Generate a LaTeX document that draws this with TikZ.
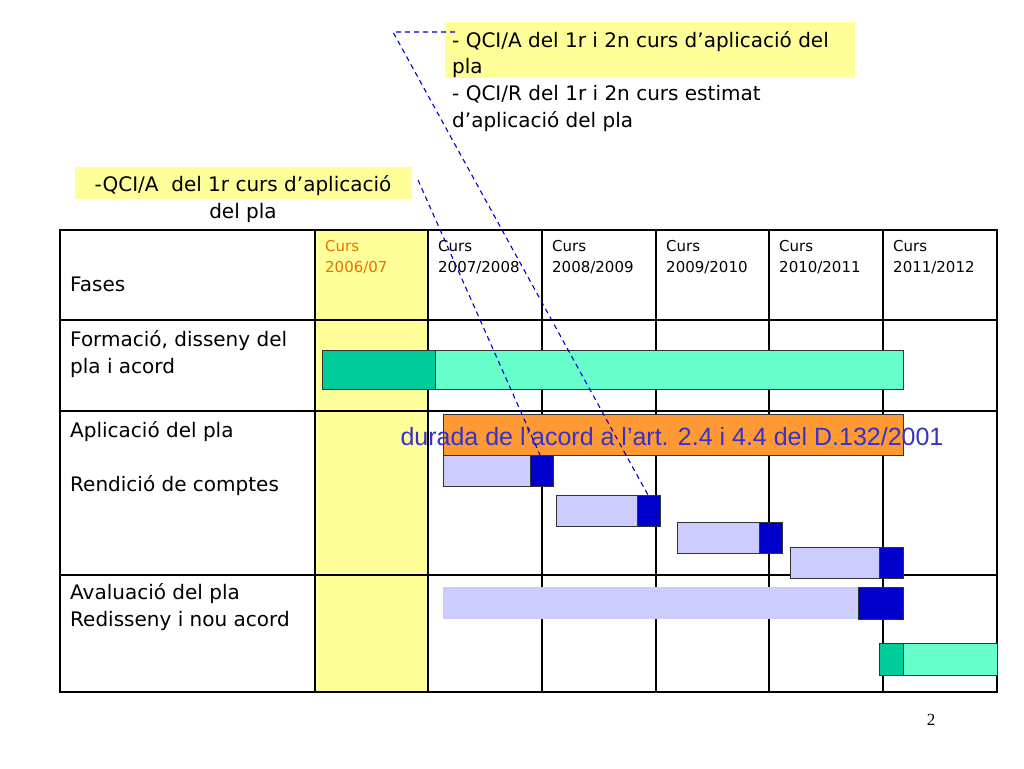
\documentclass[tikz,border=0pt]{standalone}
\usepackage{fontspec}
\setmainfont{DejaVu Sans}
\newfontfamily\pagefont{Liberation Serif}
\newfontfamily\arialfont{Liberation Sans}
\usetikzlibrary{positioning}
\definecolor{paleyellow}{RGB}{255,255,153}
\definecolor{calloutyellow}{RGB}{255,255,153}
\definecolor{darkteal}{RGB}{0,204,153}
\definecolor{lightteal}{RGB}{102,255,204}
\definecolor{lightblue}{RGB}{204,204,255}
\definecolor{darkblue}{RGB}{0,0,204}
\definecolor{orangebar}{RGB}{255,153,51}
\definecolor{textblue}{RGB}{51,51,204}
\tikzset{
  gridline/.style={line width=1.2pt},
  bar/.style={draw=black!80, line width=0.6pt},
  rowtext/.style={anchor=west, inner sep=0pt, font=\fontsize{20}{24}\selectfont},
  curstext/.style={anchor=north west, inner sep=0pt, align=left, font=\fontsize{15}{21}\selectfont},
  guide/.style={draw=darkblue, dash pattern=on 5pt off 4pt, line width=1.1pt},
}
\begin{document}
\begin{tikzpicture}[x=1pt, y=-1pt]
  \useasboundingbox (0,0) rectangle (1024,768);
  % yellow column
  \fill[paleyellow] (315,230) rectangle (428,692);
  % grid
  \foreach \x in {315,428,542,656,769,883} \draw[gridline] (\x,230) -- (\x,692);
  \foreach \y in {320,411,575} \draw[gridline] (60,\y) -- (997,\y);
  \draw[line width=2.5pt] (60,230) rectangle (997,692);
  % headers
  \node[rowtext] (fases) at (70,284) {Fases};
  \node[curstext, text=orange!90!black] (c1) at (325,240) {Curs\\2006/07};
  \foreach \x/\c in {438/2007\slash2008,552/2008\slash2009,666/2009\slash2010,779/2010\slash2011,893/2011\slash2012}
    \node[curstext] at (\x,240) {Curs\\\c};
  \node[rowtext] (form) at (70,341) {Formació, disseny del};
  \node[rowtext] (form2) at (70,368) {pla i acord};
  \node[rowtext] (aplic) at (70,432) {Aplicació del pla};
  \node[rowtext] (rend) at (70,486) {Rendició de comptes};
  \node[rowtext] (aval) at (70,594) {Avaluació del pla};
  \node[rowtext] (redis) at (70,621) {Redisseny i nou acord};
  % bars
  \draw[bar, fill=darkteal] (322,350) rectangle (435,389);
  \draw[bar, fill=lightteal] (435,350) rectangle (903,389);
  \draw[bar, fill=orangebar] (443,414) rectangle (903,455);
  \foreach \a/\b/\c/\t in {443/530/553/455, 556/637/660/495, 677/759/782/522, 790/879/903/547} {
    \draw[bar, fill=lightblue] (\a,\t) rectangle (\b,\t+31);
    \draw[bar, fill=darkblue] (\b,\t) rectangle (\c,\t+31);
  }
  \coordinate (blk1) at (540,455);
  \coordinate (blk2) at (648,495);
  \fill[lightblue] (443,587) rectangle (858,619);
  \draw[bar, fill=darkblue] (858,587) rectangle (903,619);
  \draw[bar, fill=darkteal] (879,643) rectangle (903,675);
  \draw[bar, fill=lightteal] (903,643) rectangle (997,675);
  \node[text=textblue, font=\fontsize{25}{28}\selectfont\arialfont, inner sep=0pt] (durada) at (672,437) {durada de l’acord a l’art. 2.4 i 4.4 del D.132/2001};
  % callouts
  \fill[calloutyellow] (445,22) rectangle (855,78);
  \node[anchor=north west, inner sep=0pt, align=left, font=\fontsize{20}{26.7}\selectfont] (qci2) at (452,31)
    {- QCI/A del 1r i 2n curs d’aplicació del\\pla\\- QCI/R del 1r i 2n curs estimat\\d’aplicació del pla};
  \fill[calloutyellow] (75,167) rectangle (412,199);
  \node[anchor=north, inner sep=0pt, align=center, font=\fontsize{20}{27}\selectfont] (qci1) at (243,175)
    {-QCI/A\ \ del 1r curs d’aplicació\\del pla};
  \coordinate (g1) at (393,32);
  \coordinate (g2) at (418,180);
  \draw[guide] (455,32) -- (g1) -- (blk2);
  \draw[guide] (g2) -- (blk1);
  \node[font=\fontsize{17}{20}\selectfont\pagefont, inner sep=0pt] (pg) at (931,720) {2};
\end{tikzpicture}
\end{document}
